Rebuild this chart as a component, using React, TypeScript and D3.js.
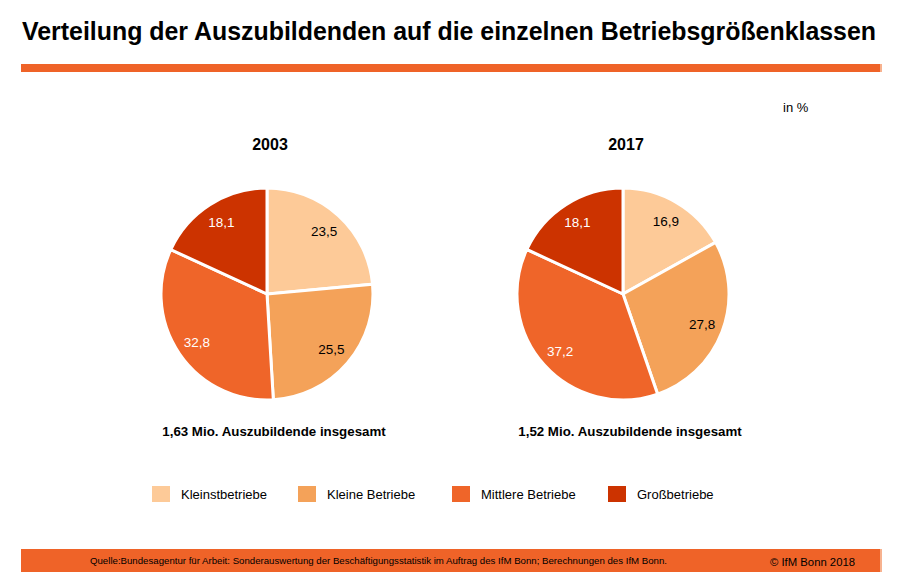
import React from "react";
import * as d3 from "d3";

const categories = ["Kleinstbetriebe", "Kleine Betriebe", "Mittlere Betriebe", "Großbetriebe"];
const colors = ["#FDCA98", "#F4A259", "#EF6529", "#CC3300"];
const labelColors = ["#000", "#000", "#fff", "#fff"];
const years = ["2003", "2017"];
const values2003 = [23.5, 25.5, 32.8, 18.1];
const values2017 = [16.9, 27.8, 37.2, 18.1];
const totals = ["1,63 Mio. Auszubildende insgesamt", "1,52 Mio. Auszubildende insgesamt"];

const W = 904, H = 586;
const R = 106;

function Pie({ cx, cy, values, year, total }: { cx: number; cy: number; values: number[]; year: string; total: string }) {
  const pie = d3.pie<number>().value((d) => d).sort(null)(values);
  const arc = d3.arc<d3.PieArcDatum<number>>().innerRadius(0).outerRadius(R);
  const labelArc = d3.arc<d3.PieArcDatum<number>>().innerRadius(R * 0.8).outerRadius(R * 0.8);
  const fmt = (v: number) => v.toFixed(1).replace(".", ",");
  return (
    <g>
      <text x={cx + 3} y={150} textAnchor="middle" fontWeight="bold" fontSize={16} fontFamily="Liberation Sans, Arial, sans-serif">{year}</text>
      <g transform={`translate(${cx},${cy})`}>
        {pie.map((d, i) => (
          <path key={i} d={arc(d) || ""} fill={colors[i]} stroke="#fff" strokeWidth={3} />
        ))}
        {pie.map((d, i) => {
          const [x, y] = labelArc.centroid(d);
          return (
            <text key={i} x={x} y={y} dy="0.35em" textAnchor="middle" fontSize={13.5} fill={labelColors[i]} fontFamily="Liberation Sans, Arial, sans-serif">{fmt(values[i])}</text>
          );
        })}
      </g>
      <text x={cx + 7} y={436} textAnchor="middle" fontWeight="bold" fontSize={13.3} fontFamily="Liberation Sans, Arial, sans-serif">{total}</text>
    </g>
  );
}

export default function App() {
  const legendX = [152, 298, 452, 608];
  return (
    <svg width={W} height={H} style={{ display: "block", position: "absolute", left: 0, top: 0 }}>
      <rect width={W} height={H} fill="#fff" />
      <text x={22} y={40} fontSize={25} fontWeight="bold" fontFamily="Liberation Sans, Arial, sans-serif" textLength={854} lengthAdjust="spacingAndGlyphs">Verteilung der Auszubildenden auf die einzelnen Betriebsgrößenklassen</text>
      <rect x={21} y={64} width={859} height={8} fill="#EF6328" />
      <rect x={880} y={64} width={2} height={8} fill="#F7B28F" />
      <text x={783} y={112} fontSize={13} fontFamily="Liberation Sans, Arial, sans-serif">in %</text>
      <Pie cx={267} cy={294} values={values2003} year={years[0]} total={totals[0]} />
      <Pie cx={623} cy={294} values={values2017} year={years[1]} total={totals[1]} />
      {categories.map((c, i) => (
        <g key={c}>
          <rect x={legendX[i]} y={486} width={18} height={16} fill={colors[i]} />
          <text x={legendX[i] + 29} y={499} fontSize={13} fontFamily="Liberation Sans, Arial, sans-serif">{c}</text>
        </g>
      ))}
      <rect x={21} y={549} width={859} height={23} fill="#EF6328" />
      <rect x={880} y={549} width={2} height={23} fill="#F7B28F" />
      <text x={90} y={564} fontSize={9} fontFamily="Liberation Sans, Arial, sans-serif" textLength={577} lengthAdjust="spacingAndGlyphs">Quelle:Bundesagentur für Arbeit: Sonderauswertung der Beschäftigungsstatistik im Auftrag des IfM Bonn; Berechnungen des IfM Bonn.</text>
      <text x={770} y={566} fontSize={10.5} fontFamily="Liberation Sans, Arial, sans-serif" textLength={85} lengthAdjust="spacingAndGlyphs">© IfM Bonn 2018</text>
    </svg>
  );
}
